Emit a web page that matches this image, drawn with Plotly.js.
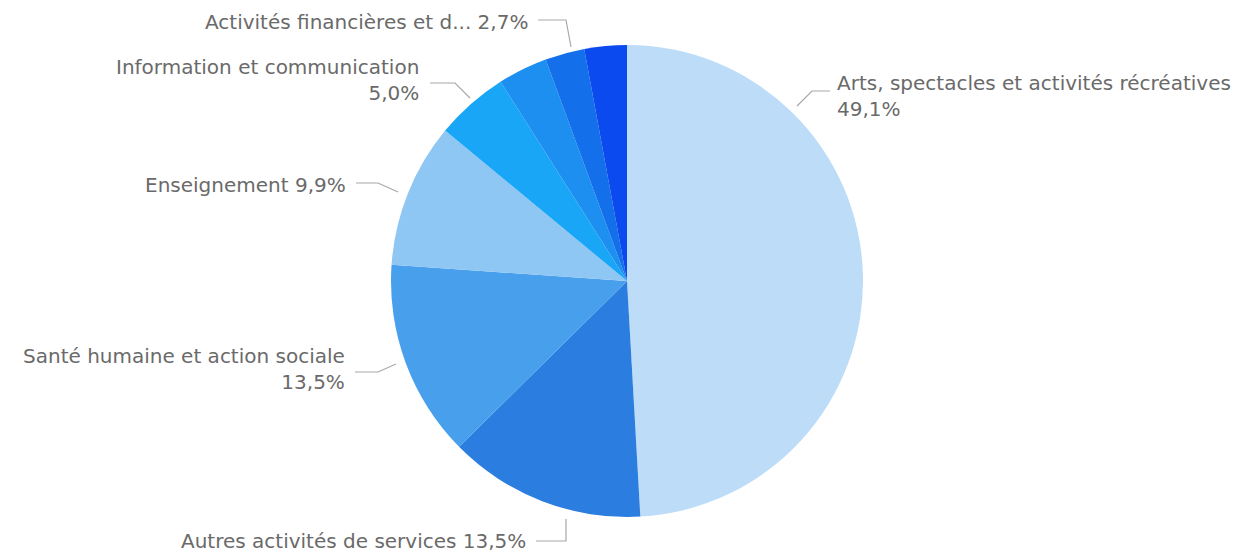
<!DOCTYPE html>
<html>
<head>
<meta charset="utf-8">
<script src="https://cdn.plot.ly/plotly-3.0.1.min.js"></script>
<style>html,body{margin:0;padding:0;background:#fff;}#chart{width:1243px;height:553px;}</style>
</head>
<body>
<div id="chart"></div>
<script>
// ---- data ----
const categories = [
  "Arts, spectacles et activités récréatives",
  "Autres activités de services",
  "Santé humaine et action sociale",
  "Enseignement",
  "Information et communication",
  "Commerce ; réparation d'automobiles et de motocycles",
  "Activités financières et d'assurance",
  "Hébergement et restauration"
];
const values = [49.1, 13.5, 13.5, 9.9, 5.0, 3.4, 2.7, 2.9];
const colors = ["#bcdcf8", "#2b7de0", "#48a0ec", "#8ec6f4", "#1aa6f6", "#1c8ff0", "#1470ea", "#0a4aee"];
const shownNames = [
  "Arts, spectacles et activités récréatives",
  "Autres activités de services",
  "Santé humaine et action sociale",
  "Enseignement",
  "Information et communication",
  null,
  "Activités financières et d...",
  null
];

// ---- layout helpers ----
const W = 1243, H = 553;
const px = x => x / W;
const py = y => 1 - y / H;
const total = values.reduce((a, b) => a + b, 0);
const pct = i => (values[i] / total * 100).toFixed(1).replace('.', ',') + '%';

// label placement (pixel positions of text + leader lines)
const labelCfg = {
  0: {x: 835, y: 96, anchor: 'left', twoLines: true, line: [[797,106],[812,91],[830,91]]},
  1: {x: 528, y: 541, anchor: 'right', twoLines: false, line: [[536,541],[566,541],[566,519]]},
  2: {x: 347, y: 369, anchor: 'right', twoLines: true, line: [[355,372],[378,372],[396,364]]},
  3: {x: 348, y: 185, anchor: 'right', twoLines: false, line: [[356,183],[378,183],[398,192]]},
  4: {x: 421, y: 80, anchor: 'right', twoLines: true, line: [[430,83],[455,83],[470,98]]},
  6: {x: 530, y: 22, anchor: 'right', twoLines: false, line: [[538,20],[566,20],[571,47]]}
};

const annotations = [];
const shapes = [];
Object.keys(labelCfg).forEach(k => {
  const i = +k, c = labelCfg[k];
  const txt = c.twoLines ? shownNames[i] + '<br>' + pct(i) : shownNames[i] + ' ' + pct(i);
  annotations.push({
    xref: 'paper', yref: 'paper', x: px(c.x), y: py(c.y),
    xanchor: c.anchor, yanchor: 'middle', align: c.anchor,
    text: txt, showarrow: false,
    font: {family: 'DejaVu Sans, sans-serif', size: 20, color: '#6a6a6a'}
  });
  const p = c.line.map((pt, j) => (j ? 'L' : 'M') + px(pt[0]) + ',' + py(pt[1])).join(' ');
  shapes.push({type: 'path', xref: 'paper', yref: 'paper', path: p,
    line: {color: '#a8a8a8', width: 1.2}});
});

const cx = 627, cy = 281, r = 236;
const trace = {
  type: 'pie',
  labels: categories,
  values: values,
  sort: false,
  direction: 'clockwise',
  rotation: 0,
  marker: {colors: colors, line: {width: 0}},
  textinfo: 'none',
  hoverinfo: 'label+percent',
  showlegend: false,
  domain: {x: [px(cx - r), px(cx + r)], y: [py(cy + r), py(cy - r)]}
};

Plotly.newPlot('chart', [trace], {
  width: W, height: H,
  margin: {l: 0, r: 0, t: 0, b: 0},
  paper_bgcolor: '#ffffff',
  showlegend: false,
  annotations: annotations,
  shapes: shapes
}, {displayModeBar: false, staticPlot: true});
</script>
</body>
</html>
